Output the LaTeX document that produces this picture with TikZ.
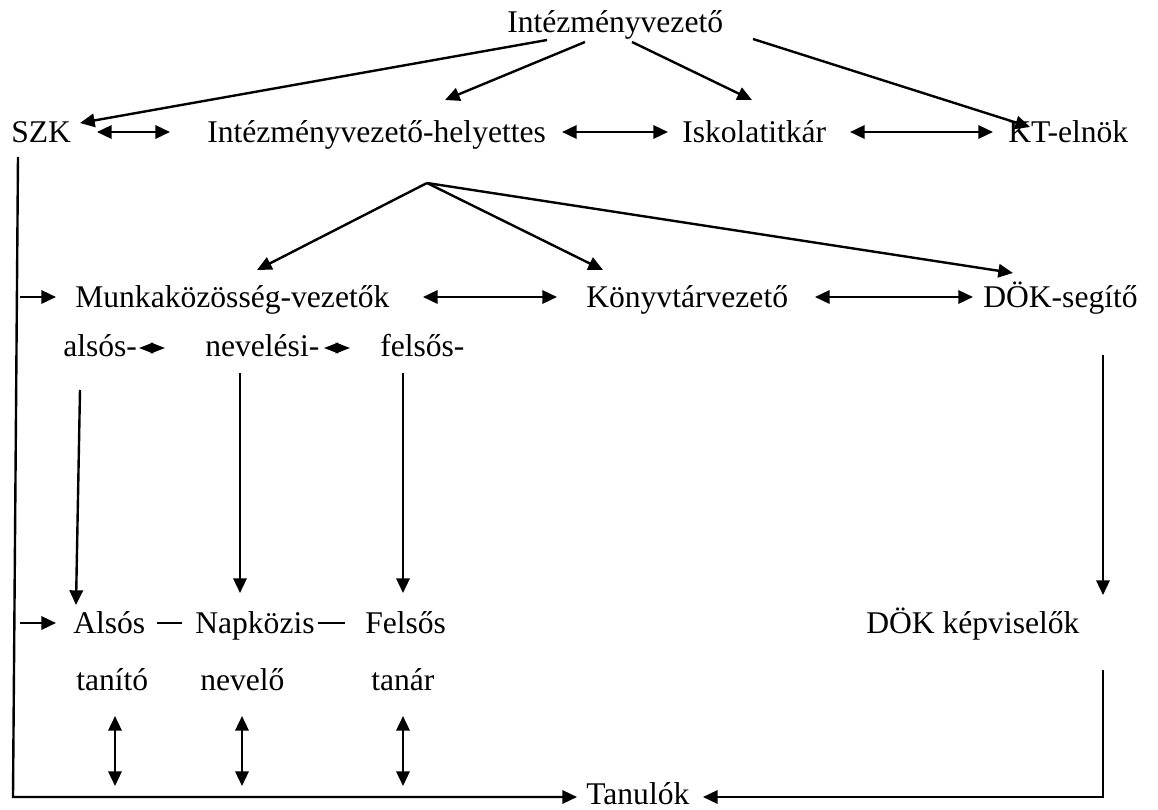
\documentclass[tikz,border=0pt]{standalone}
\usepackage{fontspec}
\setmainfont{Liberation Serif}
\usetikzlibrary{arrows.meta}
\tikzset{
  lbl/.style={anchor=base west, inner sep=0pt, font=\fontsize{23.7}{28}\selectfont},
  con/.style={line width=1.8pt, -{Triangle[length=11pt,width=10pt]}},
  dcon/.style={line width=1.8pt, {Triangle[length=11pt,width=10pt]}-{Triangle[length=11pt,width=10pt]}},
  mini/.style={line width=1.2pt, {Triangle[length=10.8pt,width=8pt]}-{Triangle[length=10.8pt,width=8pt]}},
  emdash/.style={line width=1.2pt}
}
\begin{document}
\begin{tikzpicture}[x=0.75pt, y=-0.75pt]
\useasboundingbox (0,0) rectangle (1158,810);
%Nodes
\node[lbl] (iv) at (507,32) {Intézményvezető};
\node[lbl] (szk) at (11,142) {SZK};
\node[lbl] (ivh) at (207,142) {Intézményvezető-helyettes};
\node[lbl] (isk) at (682,142) {Iskolatitkár};
\node[lbl] (kt) at (1008,142) {KT-elnök};
\node[lbl] (mkv) at (75,307) {Munkaközösség-vezetők};
\node[lbl] (kv) at (586,307) {Könyvtárvezető};
\node[lbl] (dok) at (983,307) {DÖK-segítő};
\node[lbl] (also) at (63,356) {alsós-};
\node[lbl] (neve) at (205,356) {nevelési-};
\node[lbl] (fels) at (380,356) {felsős-};
\node[lbl] (alsos) at (73,633) {Alsós};
\node[lbl] (napk) at (195,633) {Napközis};
\node[lbl] (felsos) at (365,633) {Felsős};
\node[lbl] (dkp) at (866,633) {DÖK képviselők};
\node[lbl] (tanito) at (76,690) {tanító};
\node[lbl] (nevelo) at (200,690) {nevelő};
\node[lbl] (tanar) at (371,690) {tanár};
\node[lbl] (tan) at (586,804) {Tanulók};
%Connector ends
\coordinate (ivA) at (547,40); \coordinate (ivB) at (585,42); \coordinate (ivC) at (632,42); \coordinate (ivD) at (753,39);
\coordinate (szkT) at (80,123); \coordinate (ivhT) at (445,100); \coordinate (iskT) at (752,100); \coordinate (ktT) at (1030,127);
\coordinate (szkR) at (97,132); \coordinate (ivhL) at (170,132); \coordinate (ivhR) at (562,132); \coordinate (iskL) at (668,132);
\coordinate (iskR) at (850,132); \coordinate (ktL) at (993,132);
\coordinate (j) at (427,183);
\coordinate (mkvT) at (257,270); \coordinate (kvT) at (603,270); \coordinate (dokT) at (1013,273);
\coordinate (mkvIn) at (20,297); \coordinate (mkvL) at (56,297); \coordinate (mkvR) at (423,297); \coordinate (kvL) at (557,297);
\coordinate (kvR) at (815,297); \coordinate (dokL) at (973,297);
\coordinate (alsoR) at (139,348); \coordinate (neveL) at (165,348); \coordinate (neveR) at (324,348); \coordinate (felsL) at (350,348);
\coordinate (alsoB) at (80,390); \coordinate (alsosT) at (76,605);
\coordinate (neveB) at (240,373); \coordinate (napkT) at (240,593);
\coordinate (felsB) at (403,373); \coordinate (felsosT) at (403,593);
\coordinate (dokB) at (1103,355); \coordinate (dkpT) at (1103,595);
\coordinate (alsosIn) at (20,623); \coordinate (alsosL) at (56,623);
\coordinate (alsosR) at (157,623); \coordinate (napkL) at (182,623); \coordinate (napkR) at (318,623); \coordinate (felsosL) at (345,623);
\coordinate (tanitoB) at (115,716); \coordinate (tanitoT) at (115,786);
\coordinate (neveloB) at (242,716); \coordinate (neveloT) at (242,786);
\coordinate (tanarB) at (403,716); \coordinate (tanarT) at (403,786);
\coordinate (szkB) at (18,157); \coordinate (szkC) at (13,797); \coordinate (tanL) at (577,797);
\coordinate (dkpB) at (1103,670); \coordinate (dkpC) at (1103,797); \coordinate (tanR) at (703,797);
%Connectors
\draw[con] (ivA) -- (szkT);
\draw[con] (ivB) -- (ivhT);
\draw[con] (ivC) -- (iskT);
\draw[con] (ivD) -- (ktT);
\draw[dcon] (szkR) -- (ivhL);
\draw[dcon] (ivhR) -- (iskL);
\draw[dcon] (iskR) -- (ktL);
\draw[con] (j) -- (mkvT);
\draw[con] (j) -- (kvT);
\draw[con] (j) -- (dokT);
\draw[con] (mkvIn) -- (mkvL);
\draw[dcon] (mkvR) -- (kvL);
\draw[dcon] (kvR) -- (dokL);
\draw[mini] (alsoR) -- (neveL);
\draw[mini] (neveR) -- (felsL);
\draw[con] (alsoB) -- (alsosT);
\draw[con] (neveB) -- (napkT);
\draw[con] (felsB) -- (felsosT);
\draw[con] (dokB) -- (dkpT);
\draw[con] (alsosIn) -- (alsosL);
\draw[emdash] (alsosR) -- (napkL);
\draw[emdash] (napkR) -- (felsosL);
\draw[dcon] (tanitoB) -- (tanitoT);
\draw[dcon] (neveloB) -- (neveloT);
\draw[dcon] (tanarB) -- (tanarT);
\draw[con] (szkB) -- (szkC) -- (tanL);
\draw[con] (dkpB) -- (dkpC) -- (tanR);
\end{tikzpicture}
\end{document}
